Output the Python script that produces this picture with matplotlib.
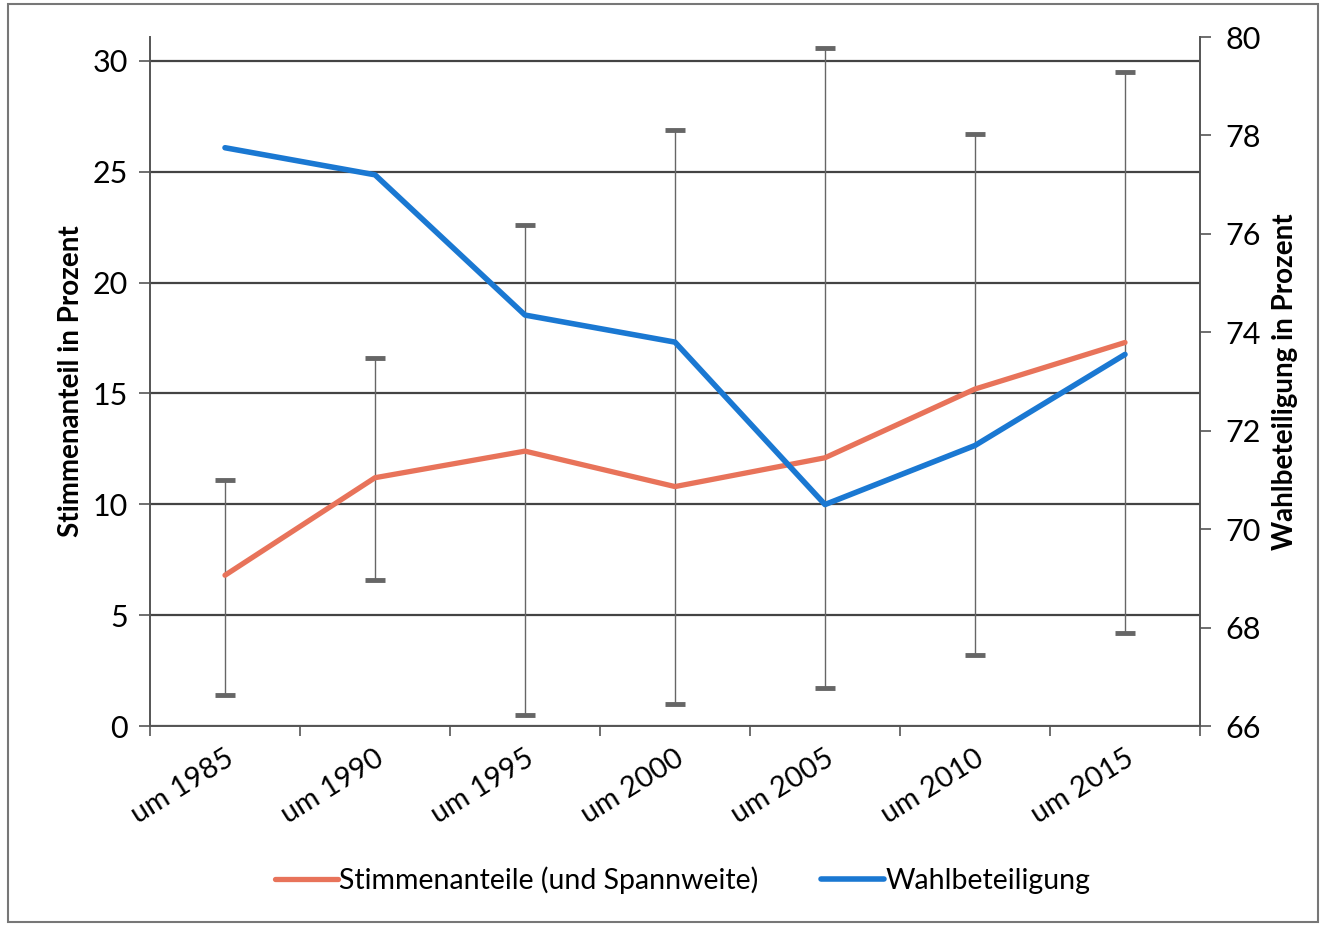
import matplotlib

matplotlib.use('Agg')
import matplotlib.pyplot as plt
from matplotlib.patches import Rectangle

plt.rcParams['font.family'] = ['Lato', 'DejaVu Sans']

# Daten
KATEGORIEN = ["um 1985", "um 1990", "um 1995", "um 2000", "um 2005", "um 2010", "um 2015"]
STIMMEN = [6.8, 11.2, 12.4, 10.8, 12.1, 15.2, 17.3]
STIMMEN_MAX = [11.1, 16.6, 22.6, 26.9, 30.6, 26.7, 29.5]
STIMMEN_MIN = [1.4, 6.6, 0.5, 1.0, 1.7, 3.2, 4.2]
WAHLBETEILIGUNG = [77.75, 77.2, 74.35, 73.8, 70.5, 71.7, 73.55]

ROT = "#e8735a"
BLAU = "#1a78d2"
GRAU = "#555555"

fig = plt.figure(figsize=(13.26, 9.26), dpi=100)
ax = fig.add_axes([150 / 1326, 1 - 726 / 926, 1050 / 1326, 689 / 926])
ax2 = ax.twinx()

x = list(range(len(KATEGORIEN)))

# Spannweite als Fehlerbalken
err_lo = [s - m for s, m in zip(STIMMEN, STIMMEN_MIN)]
err_hi = [m - s for s, m in zip(STIMMEN, STIMMEN_MAX)]
ax.errorbar(x, STIMMEN, yerr=[err_lo, err_hi], fmt='none', ecolor="#666666",
            elinewidth=1.0, capsize=7, capthick=3.5, zorder=2)
l1, = ax.plot(x, STIMMEN, color=ROT, lw=3.8, zorder=3, solid_capstyle='round')
l2, = ax2.plot(x, WAHLBETEILIGUNG, color=BLAU, lw=4.0, zorder=3, solid_capstyle='round')

ax.set_xlim(-0.5, 6.5)
ax.set_ylim(0, 31.08)
ax.set_yticks([0, 5, 10, 15, 20, 25, 30])
ax2.set_ylim(66, 80)
ax2.set_yticks([66, 68, 70, 72, 74, 76, 78, 80])

ax.yaxis.grid(True, color="#444444", lw=1.6)
ax.set_axisbelow(True)

ax.set_xticks([i - 0.5 for i in range(len(KATEGORIEN) + 1)])
ax.set_xticklabels([])
ax.set_xticks(x, minor=True)
ax.set_xticklabels(KATEGORIEN, minor=True, rotation=32, ha='right',
                   rotation_mode='anchor', fontsize=21)
ax.tick_params(axis='x', which='minor', length=0, pad=14)
ax.tick_params(axis='x', which='major', length=7, width=1.2, color=GRAU)
ax.tick_params(axis='y', length=8, width=1.2, color=GRAU, labelsize=22, pad=8)
ax2.tick_params(axis='y', length=8, width=1.2, color=GRAU, labelsize=22, pad=10)

for a in (ax, ax2):
    a.spines['top'].set_visible(False)
    for s in ('left', 'right', 'bottom'):
        a.spines[s].set_color(GRAU)
        a.spines[s].set_linewidth(1.4)
ax.spines['right'].set_visible(False)
ax2.spines['left'].set_visible(False)
ax2.spines['bottom'].set_visible(False)

ax.set_ylabel("Stimmenanteil in Prozent", fontsize=20, fontweight='bold', labelpad=6)
ax2.set_ylabel("Wahlbeteiligung in Prozent", fontsize=20, fontweight='bold', labelpad=8)

fig.legend([l1, l2], ["Stimmenanteile (und Spannweite)", "Wahlbeteiligung"],
           loc='center', bbox_to_anchor=(0.515, 1 - 880 / 926), ncol=2, frameon=False,
           fontsize=20.5, handlelength=2.2, handletextpad=0.05, columnspacing=2.2)

# Rahmen
fig.patches.append(Rectangle((8 / 1326, 4 / 926), 1310 / 1326, 918 / 926,
                             transform=fig.transFigure, fill=False,
                             edgecolor="#777777", lw=1.5))

fig.savefig("out.png", dpi=100)
